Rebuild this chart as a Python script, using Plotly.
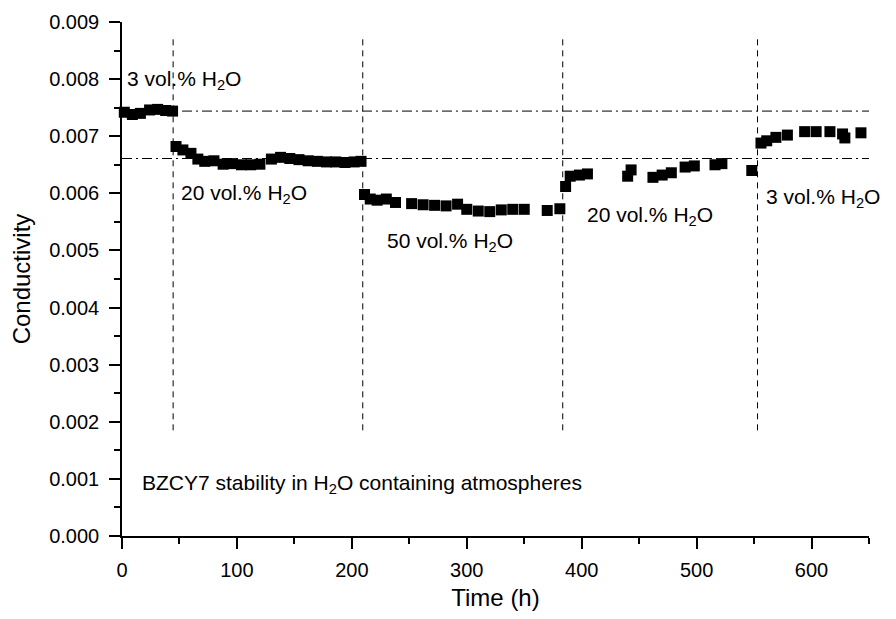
import plotly.graph_objects as go

# ---- data ----
time_h = [2, 9, 16, 24, 31, 38, 44,
          47, 53, 60, 66, 72, 80, 88, 96, 104, 112, 120, 130, 138, 146, 154, 162, 170, 178, 186, 194, 202, 208,
          211, 216, 222, 230, 238, 252, 262, 272, 282, 292, 300, 310, 320, 330, 340, 350, 370, 381,
          386, 390, 398, 405, 440, 443, 462, 470, 478, 490, 498, 516, 522, 548,
          556, 561, 569, 579, 594, 604, 616, 627, 629, 643]
conductivity = [0.00742, 0.00738, 0.00740, 0.00746, 0.00747, 0.00745, 0.00744,
                0.00682, 0.00676, 0.00670, 0.00660, 0.00656, 0.00657, 0.00651, 0.00652, 0.00650, 0.00650, 0.00651,
                0.00660, 0.00663, 0.00661, 0.00659, 0.00657, 0.00656, 0.00655, 0.00655, 0.00654, 0.00655, 0.00656,
                0.00598, 0.00590, 0.00588, 0.00590, 0.00584, 0.00582, 0.00580, 0.00579, 0.00578, 0.00581,
                0.00572, 0.00569, 0.00568, 0.00571, 0.00572, 0.00572, 0.00570, 0.00573,
                0.00612, 0.00630, 0.00632, 0.00634, 0.00630, 0.00641, 0.00628, 0.00632, 0.00636, 0.00646, 0.00648,
                0.00650, 0.00652, 0.00640,
                0.00688, 0.00692, 0.00698, 0.00702, 0.00708, 0.00708, 0.00708, 0.00704, 0.00697, 0.00706]

boundaries_h = [44.5, 209.5, 383.5, 553]
boundary_span = [0.00185, 0.00875]
reference_levels = [0.00744, 0.00661]
x_span = [0, 650]

labels = ["3 vol.% H<sub>2</sub>O", "20 vol.% H<sub>2</sub>O", "50 vol.% H<sub>2</sub>O",
          "20 vol.% H<sub>2</sub>O", "3 vol.% H<sub>2</sub>O",
          "BZCY7 stability in H<sub>2</sub>O containing atmospheres"]

FONT = "Arial, Liberation Sans, sans-serif"

fig = go.Figure()

# vertical dashed boundaries
for b in boundaries_h:
    fig.add_trace(go.Scatter(x=[b, b], y=boundary_span, mode="lines",
                             line=dict(color="black", width=1, dash="6px,5px"),
                             showlegend=False, hoverinfo="skip"))
# horizontal dash-dot reference levels
for lv in reference_levels:
    fig.add_trace(go.Scatter(x=x_span, y=[lv, lv], mode="lines",
                             line=dict(color="black", width=1, dash="10px,4px,2px,4px"),
                             showlegend=False, hoverinfo="skip"))

fig.add_trace(go.Scatter(x=time_h, y=conductivity, mode="markers",
                         marker=dict(symbol="square", size=11, color="black"),
                         cliponaxis=False, showlegend=False))

ann_pos = [(2.6, 0.00799), (49.6, 0.00599), (229, 0.00515), (403, 0.0056), (558.6, 0.00592), (15.7, 0.00091)]
for (ax, ay), txt in zip(ann_pos, labels):
    fig.add_annotation(x=ax, y=ay, text=txt, showarrow=False, xanchor="left", yanchor="middle",
                       font=dict(family=FONT, size=21, color="black"))

axis_common = dict(showline=True, linecolor="black", linewidth=1.5, showgrid=False, zeroline=False,
                   ticks="outside", ticklen=11, tickwidth=1.5, tickcolor="black",
                   tickfont=dict(family=FONT, size=20, color="black"), mirror=False)

fig.update_xaxes(range=[0, 650], dtick=100, tick0=0, ticklabelstandoff=4,
                 minor=dict(dtick=50, ticks="outside", ticklen=6, tickwidth=1.5, tickcolor="black"),
                 title=dict(text="Time (h)", font=dict(family=FONT, size=24, color="black"), standoff=12),
                 **axis_common)
fig.update_yaxes(range=[0, 0.009], dtick=0.001, tick0=0, tickformat=".3f", ticklabelstandoff=6,
                 minor=dict(dtick=0.0005, ticks="outside", ticklen=6, tickwidth=1.5, tickcolor="black"),
                 title=dict(text="Conductivity", font=dict(family=FONT, size=24, color="black"), standoff=12),
                 **axis_common)

fig.update_layout(width=880, height=603, plot_bgcolor="white", paper_bgcolor="white",
                  margin=dict(l=114, r=19, t=14, b=75, autoexpand=False), showlegend=False)

fig.write_html("out.html")
